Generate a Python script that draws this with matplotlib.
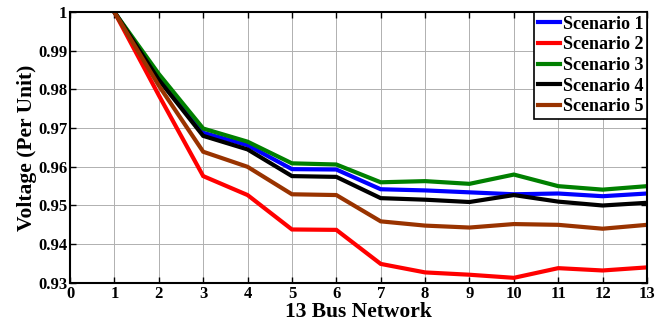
import matplotlib
matplotlib.use("Agg")
import matplotlib.pyplot as plt

# bus voltages (p.u.) along the 13 bus feeder, one list per scenario
buses = list(range(1, 14))
scenario_1 = [1.0, 0.9830, 0.9688, 0.9656, 0.9594, 0.9593, 0.9542, 0.9539, 0.9534, 0.9529, 0.9531, 0.9524, 0.9531]
scenario_2 = [1.0, 0.9785, 0.9576, 0.9527, 0.9438, 0.9437, 0.9349, 0.9327, 0.9321, 0.9313, 0.9338, 0.9332, 0.9340]
scenario_3 = [1.0, 0.9840, 0.9699, 0.9665, 0.9609, 0.9606, 0.9560, 0.9563, 0.9556, 0.9580, 0.9550, 0.9541, 0.9550]
scenario_4 = [1.0, 0.9825, 0.9680, 0.9645, 0.9576, 0.9574, 0.9519, 0.9515, 0.9509, 0.9527, 0.9510, 0.9500, 0.9507]
scenario_5 = [1.0, 0.9810, 0.9639, 0.9600, 0.9529, 0.9527, 0.9459, 0.9448, 0.9443, 0.9452, 0.9450, 0.9440, 0.9450]

series = [
    ("Scenario 1", scenario_1, "#0000ff"),
    ("Scenario 2", scenario_2, "#ff0000"),
    ("Scenario 3", scenario_3, "#008000"),
    ("Scenario 4", scenario_4, "#000000"),
    ("Scenario 5", scenario_5, "#993300"),
]

plt.rcParams["font.family"] = ["Liberation Serif", "DejaVu Serif"]
plt.rcParams["font.weight"] = "bold"

fig = plt.figure(figsize=(6.67, 3.27), dpi=100)
ax = fig.add_axes([0.105, 0.135, 0.865, 0.828])

for name, vals, col in series:
    ax.plot(buses, vals, color=col, lw=3.0, label=name, solid_joinstyle="miter")

ax.set_xlim(0, 13)
ax.set_ylim(0.93, 1.0)
ax.set_xticks(range(0, 14))
ax.set_yticks([0.93, 0.94, 0.95, 0.96, 0.97, 0.98, 0.99, 1.0])
ax.set_yticklabels(["0.93", "0.94", "0.95", "0.96", "0.97", "0.98", "0.99", "1"])
ax.grid(True, color="#b0b0b0", lw=0.7)
ax.tick_params(direction="in", top=True, right=True, labelsize=12, length=4, width=1, pad=2)
for lab in ax.get_xticklabels() + ax.get_yticklabels():
    lab.set_fontweight("bold")
for sp in ax.spines.values():
    sp.set_linewidth(1.5)

ax.set_xlabel("13 Bus Network", fontsize=15.5, fontweight="bold", labelpad=0.5)
ax.set_ylabel("Voltage (Per Unit)", fontsize=15.5, fontweight="bold", labelpad=1)

leg = ax.legend(loc="upper right", frameon=True, fancybox=False,
                handlelength=1.25, handletextpad=0.15, borderpad=0.2, labelspacing=0.2,
                borderaxespad=0.0, prop={"weight": "bold", "size": 13})
leg.get_frame().set_edgecolor("black")
leg.get_frame().set_linewidth(1.2)
leg.get_frame().set_alpha(1.0)

fig.savefig("out.png", dpi=100)
